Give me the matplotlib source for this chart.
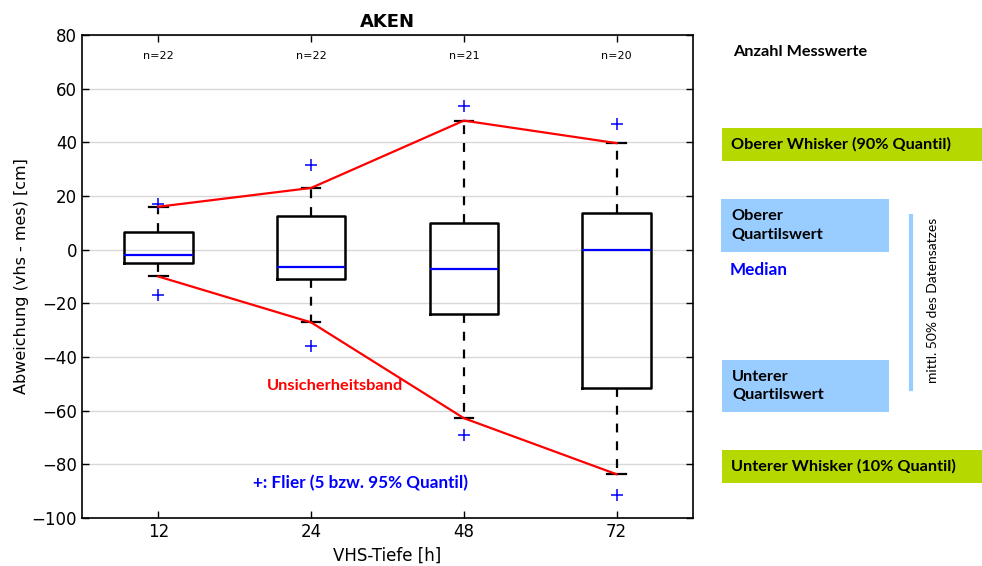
import matplotlib
matplotlib.use("Agg")
import matplotlib.pyplot as plt
from matplotlib.patches import Rectangle
from matplotlib.lines import Line2D

# ---- data ----
categories = ["12", "24", "48", "72"]
counts = [22, 22, 21, 20]
medians = [-2.0, -6.6, -7.3, 0.0]
q1_vals = [-5.1, -11.0, -24.1, -51.4]
q3_vals = [6.5, 12.6, 10.0, 13.7]
whisker_low = [-10.0, -27.1, -62.8, -83.7]
whisker_high = [16.0, 23.0, 48.1, 39.7]
flier_low = [-16.9, -35.8, -69.2, -91.4]
flier_high = [17.0, 31.5, 53.7, 46.9]
yticks = [-100, -80, -60, -40, -20, 0, 20, 40, 60, 80]

W, H = 982, 566
fig = plt.figure(figsize=(W / 100, H / 100), dpi=100)
ax = fig.add_axes([82 / W, 1 - 518 / H, (693 - 82) / W, (518 - 35) / H])

positions = list(range(1, len(categories) + 1))
stats = []
for i, c in enumerate(categories):
    stats.append(dict(med=medians[i], q1=q1_vals[i], q3=q3_vals[i],
                      whislo=whisker_low[i], whishi=whisker_high[i],
                      fliers=[flier_low[i], flier_high[i]], label=c))

ax.bxp(stats, positions=positions, widths=0.45, capwidths=0.12,
       boxprops=dict(color="black", linewidth=1.8),
       medianprops=dict(color="blue", linewidth=1.6),
       whiskerprops=dict(color="black", linewidth=1.6, linestyle=(0, (4, 4))),
       capprops=dict(color="black", linewidth=1.6),
       flierprops=dict(marker="+", markeredgecolor="blue", markersize=8,
                       markeredgewidth=1.1, linestyle="none"))

ax.plot(positions, whisker_high, color="red", linewidth=1.6, zorder=4)
ax.plot(positions, whisker_low, color="red", linewidth=1.6, zorder=4)

for p, n in zip(positions, counts):
    ax.text(p, 72, f"n={n}", ha="center", va="center", fontsize=8)

ax.set_xlim(0.5, 4.5)
ax.set_ylim(-100, 80)
ax.set_yticks(yticks)
ax.set_xticks(positions)
ax.set_xticklabels(categories)
ax.tick_params(axis="both", direction="in", top=True, right=True, length=5,
               labelsize=12, width=1)
ax.yaxis.grid(True, color="#d8d8d8", linewidth=1)
ax.set_axisbelow(True)
for s in ax.spines.values():
    s.set_linewidth(1.2)
ax.set_title("AKEN", fontsize=13, fontweight="bold", pad=6)
ax.set_xlabel("VHS-Tiefe [h]", fontsize=12)
ax.set_ylabel("Abweichung (vhs - mes) [cm]", fontsize=11.5, labelpad=2)

ax.text(1.71, -50.8, "Unsicherheitsband", color="red", fontsize=11.8,
        fontweight="bold", family="Lato", ha="left", va="center")
ax.text(1.62, -87, "+: Flier (5 bzw. 95% Quantil)", color="blue", fontsize=12.3,
        fontweight="bold", family="Lato", ha="left", va="center")

# ---- right-side annotations (figure pixel coords) ----
def fx(px):
    return px / W

def fy(py):
    return 1 - py / H

green = "#b5d800"
lblue = "#99ccff"
fs = 11.7

def box(x0, y0, x1, y1, color):
    fig.add_artist(Rectangle((fx(x0), fy(y1)), fx(x1) - fx(x0), fy(y0) - fy(y1),
                             transform=fig.transFigure, facecolor=color,
                             edgecolor="none", zorder=0))

fig.text(fx(733), fy(52), "Anzahl Messwerte", fontsize=fs, fontweight="bold",
         family="Lato", va="center", ha="left")

box(722, 128, 982, 161, green)
fig.text(fx(731), fy(144.5), "Oberer Whisker (90% Quantil)", fontsize=fs,
         fontweight="bold", family="Lato", va="center", ha="left")

box(721, 199, 889, 252, lblue)
fig.text(fx(731), fy(225.5), "Oberer\nQuartilswert", fontsize=fs,
         fontweight="bold", family="Lato", va="center", ha="left",
         linespacing=1.4)

fig.text(fx(730), fy(270), "Median", fontsize=12.3, fontweight="bold",
         family="Lato", color="blue", va="center", ha="left")

box(722, 360, 889, 412, lblue)
fig.text(fx(732), fy(386), "Unterer\nQuartilswert", fontsize=fs,
         fontweight="bold", family="Lato", va="center", ha="left",
         linespacing=1.4)

fig.add_artist(Line2D([fx(911), fx(911)], [fy(216), fy(389)],
                      transform=fig.transFigure, color=lblue, linewidth=3))
fig.text(fx(933), fy(300), "mittl. 50% des Datensatzes", fontsize=10,
         family="Lato", rotation=90, va="center", ha="center")

box(722, 450, 982, 483, green)
fig.text(fx(731), fy(466.5), "Unterer Whisker (10% Quantil)", fontsize=fs,
         fontweight="bold", family="Lato", va="center", ha="left")

fig.savefig("out.png", dpi=100)
